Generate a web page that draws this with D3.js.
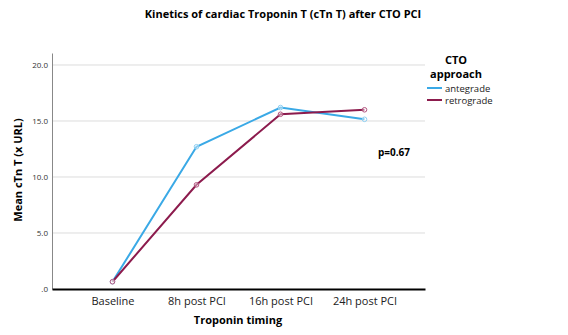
<!DOCTYPE html>
<html>
<head>
<meta charset="utf-8">
<script src="https://cdn.jsdelivr.net/npm/d3@7"></script>
<style>
  body { margin: 0; background: #fff; }
  text { font-family: "Open Sans", "DejaVu Sans", sans-serif; }
</style>
</head>
<body>
<div class="chart"></div>
<script>
var svgWidth = 568;
var svgHeight = 335;

// data
var timings = ["Baseline", "8h post PCI", "16h post PCI", "24h post PCI"];
var antegrade = [0.65, 12.7, 16.2, 15.15];
var retrograde = [0.65, 9.3, 15.6, 16.0];
var yTicks = [0, 5, 10, 15, 20];

var series = [
  { name: "antegrade", values: antegrade, color: "#3aa9e6", marker: "#8fd0f2" },
  { name: "retrograde", values: retrograde, color: "#8c1b4d", marker: "#b3557f" }
];

var margin = { top: 53, right: 143, bottom: 46, left: 52 };
var width = svgWidth - margin.left - margin.right;
var height = svgHeight - margin.top - margin.bottom;

var svg = d3.select(".chart")
  .append("svg")
  .attr("width", svgWidth)
  .attr("height", svgHeight);

var chartGroup = svg.append("g")
  .attr("transform", `translate(${margin.left}, ${margin.top})`);

var xScale = d3.scalePoint()
  .domain(timings)
  .range([0, width])
  .padding(0.72);

var yScale = d3.scaleLinear()
  .domain([0, 21.07])
  .range([height, 0]);

// gridlines
chartGroup.append("g")
  .selectAll("line")
  .data(yTicks.filter(d => d > 0))
  .enter()
  .append("line")
  .attr("x1", 0)
  .attr("x2", width)
  .attr("y1", d => yScale(d))
  .attr("y2", d => yScale(d))
  .attr("stroke", "#dcdcdc")
  .attr("stroke-width", 1);

// y axis
var leftAxis = d3.axisLeft(yScale)
  .tickValues(yTicks)
  .tickSize(0)
  .tickPadding(4)
  .tickFormat(d => d === 0 ? ".0" : d3.format(".1f")(d));

var yAxis = chartGroup.append("g").call(leftAxis);
yAxis.select(".domain").attr("stroke", "#888").attr("stroke-width", 1);
yAxis.selectAll("text")
  .attr("font-size", "8px")
  .attr("fill", "#333");

// x axis
var bottomAxis = d3.axisBottom(xScale)
  .tickSize(0)
  .tickPadding(8);

var xAxis = chartGroup.append("g")
  .attr("transform", `translate(0, ${height})`)
  .call(bottomAxis);
xAxis.select(".domain").attr("stroke", "#000").attr("stroke-width", 2);
xAxis.selectAll("text")
  .attr("font-size", "11px")
  .attr("fill", "#222");

// lines
var line = d3.line()
  .x((d, i) => xScale(timings[i]))
  .y(d => yScale(d));

series.forEach(function(s) {
  chartGroup.append("path")
    .datum(s.values)
    .attr("d", line)
    .attr("fill", "none")
    .attr("stroke", s.color)
    .attr("stroke-width", 2);
});

series.forEach(function(s) {
  chartGroup.selectAll(".pt-" + s.name)
    .data(s.values)
    .enter()
    .append("circle")
    .attr("cx", (d, i) => xScale(timings[i]))
    .attr("cy", d => yScale(d))
    .attr("r", 2.3)
    .attr("fill", "#fff")
    .attr("fill-opacity", 0.4)
    .attr("stroke", s.marker)
    .attr("stroke-width", 1);
});

// title
svg.append("text")
  .attr("x", 283)
  .attr("y", 18)
  .attr("text-anchor", "middle")
  .attr("font-size", "11px")
  .attr("font-weight", "bold")
  .text("Kinetics of cardiac Troponin T (cTn T) after CTO PCI");

// axis titles
svg.append("text")
  .attr("x", 238)
  .attr("y", 324)
  .attr("text-anchor", "middle")
  .attr("font-size", "11px")
  .attr("font-weight", "bold")
  .text("Troponin timing");

svg.append("text")
  .attr("transform", "translate(22, 170) rotate(-90)")
  .attr("text-anchor", "middle")
  .attr("font-size", "11px")
  .attr("font-weight", "bold")
  .text("Mean cTn T (x URL)");

// p value
svg.append("text")
  .attr("x", 378)
  .attr("y", 156)
  .attr("font-size", "10px")
  .attr("font-weight", "bold")
  .text("p=0.67");

// legend
var legend = svg.append("g");
legend.append("text")
  .attr("x", 456)
  .attr("y", 64)
  .attr("text-anchor", "middle")
  .attr("font-size", "11px")
  .attr("font-weight", "bold")
  .text("CTO");
legend.append("text")
  .attr("x", 456)
  .attr("y", 78)
  .attr("text-anchor", "middle")
  .attr("font-size", "11px")
  .attr("font-weight", "bold")
  .text("approach");

series.forEach(function(s, i) {
  var y = 88 + i * 12;
  legend.append("line")
    .attr("x1", 427)
    .attr("x2", 442)
    .attr("y1", y)
    .attr("y2", y)
    .attr("stroke", s.color)
    .attr("stroke-width", 2);
  legend.append("text")
    .attr("x", 445)
    .attr("y", y + 3.5)
    .attr("font-size", "9.5px")
    .attr("fill", "#222")
    .text(s.name);
});
</script>
</body>
</html>
